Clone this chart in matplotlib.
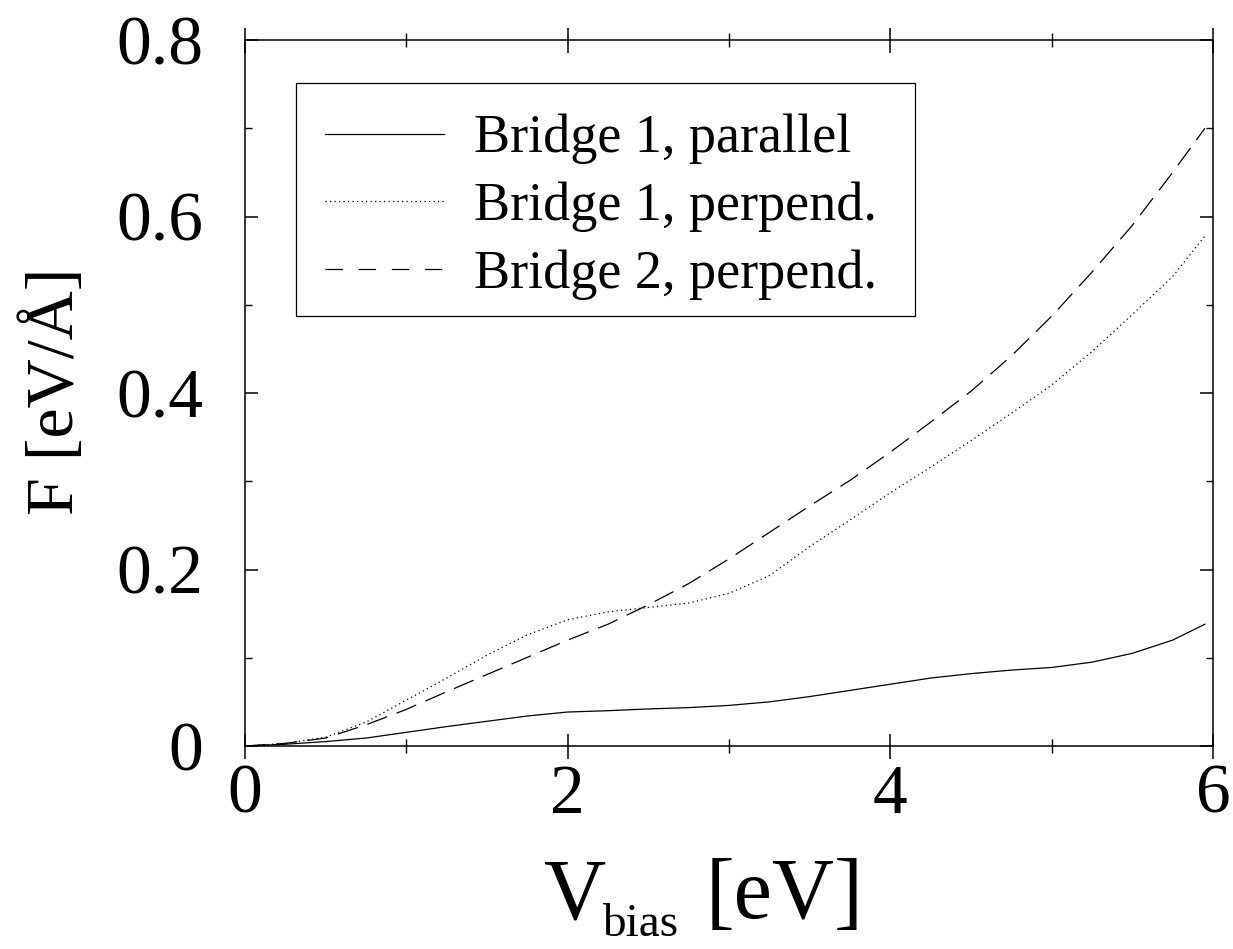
import numpy as np
import matplotlib
matplotlib.use("Agg")
import matplotlib.pyplot as plt
from matplotlib.ticker import MultipleLocator
from matplotlib.lines import Line2D
from matplotlib.patches import Rectangle

plt.rcParams['font.family'] = ['Liberation Serif', 'DejaVu Serif']

# ---- Data ----
v_bias = [0, 0.25, 0.5, 0.75, 1.0, 1.25, 1.5, 1.75, 2.0, 2.25, 2.5, 2.75, 3.0,
          3.25, 3.5, 3.75, 4.0, 4.25, 4.5, 4.75, 5.0, 5.25, 5.5, 5.75, 5.95]
f_b1_par = [0, 0.002, 0.005, 0.009, 0.0155, 0.022, 0.028, 0.034, 0.0385, 0.040,
            0.042, 0.0435, 0.046, 0.050, 0.056, 0.063, 0.070, 0.077, 0.082,
            0.086, 0.089, 0.095, 0.105, 0.120, 0.138]
f_b1_perp = [0, 0.003, 0.010, 0.027, 0.052, 0.077, 0.103, 0.126, 0.143, 0.152,
             0.157, 0.162, 0.173, 0.193, 0.226, 0.256, 0.287, 0.316, 0.346,
             0.377, 0.409, 0.447, 0.489, 0.532, 0.578]
f_b2_perp = [0, 0.003, 0.009, 0.024, 0.0415, 0.0615, 0.081, 0.1005, 0.120, 0.138,
             0.160, 0.184, 0.212, 0.242, 0.272, 0.301, 0.333, 0.367, 0.402,
             0.442, 0.487, 0.537, 0.590, 0.650, 0.700]

labels = ["Bridge 1, parallel", "Bridge 1, perpend.", "Bridge 2, perpend."]
x_ticks = [0, 2, 4, 6]
x_ticklabels = ["0", "2", "4", "6"]
y_ticks = [0, 0.2, 0.4, 0.6, 0.8]
y_ticklabels = ["0", "0.2", "0.4", "0.6", "0.8"]

W, H = 1233, 949
fig = plt.figure(figsize=(W / 100, H / 100), dpi=100)
ax = fig.add_axes([245 / W, 1 - 746 / H, (1213 - 245) / W, (746 - 40) / H])

LW = 0.9
dot_style = (0, (1.0, 2.6))
dash_style = (0, (17, 8))
ax.plot(v_bias, f_b1_par, color='black', lw=LW, ls='-')
ax.plot(v_bias, f_b1_perp, color='black', lw=LW, ls=dot_style)
ax.plot(v_bias, f_b2_perp, color='black', lw=LW, ls=dash_style)

ax.set_xlim(0, 6)
ax.set_ylim(0, 0.8)
ax.set_xticks(x_ticks)
ax.set_xticklabels(x_ticklabels)
ax.set_yticks(y_ticks)
ax.set_yticklabels(y_ticklabels)
ax.xaxis.set_minor_locator(MultipleLocator(1))
ax.yaxis.set_minor_locator(MultipleLocator(0.1))

for s in ax.spines.values():
    s.set_linewidth(1.1)

ax.tick_params(axis='x', which='major', direction='inout', length=18, width=1.1,
               labelsize=50, pad=4, top=True)
ax.tick_params(axis='x', which='minor', direction='inout', length=10, width=1.0, top=True)
ax.tick_params(axis='y', which='major', direction='in', length=9.5, width=1.1,
               labelsize=50, pad=30, right=True)
ax.tick_params(axis='y', which='minor', direction='in', length=5, width=1.0, right=True)

# Axis labels
fig.text(73 / W, 1 - 391 / H, "F [eV/Å]", fontsize=49, rotation=90,
         rotation_mode='anchor', ha='center', va='baseline')
fig.text(544 / W, 1 - 918 / H, "V", fontsize=62, ha='left', va='baseline')
fig.text(602 / W, 1 - 936 / H, "bias", fontsize=34, ha='left', va='baseline')
fig.text(706 / W, 1 - 918 / H, "[eV]", fontsize=62, ha='left', va='baseline')

# Legend
handles = [Line2D([], [], color='black', lw=LW, ls='-'),
           Line2D([], [], color='black', lw=LW, ls=(0, (1.0, 2.6))),
           Line2D([], [], color='black', lw=LW, ls=(0, (14, 12.5)))]
leg = ax.legend(handles, labels, loc='upper left',
                bbox_to_anchor=((325 - 245) / 968, (746 - 114) / 706),
                fontsize=39, frameon=False, handlelength=2.2,
                handletextpad=0.55, labelspacing=0.32, borderpad=0,
                borderaxespad=0)
ax.add_patch(Rectangle(((296 - 245) / 968, (746 - 316) / 706),
                       (915 - 296) / 968, (316 - 83) / 706,
                       transform=ax.transAxes, fill=False, edgecolor='black',
                       lw=0.9, zorder=5))

fig.savefig("out.png", dpi=100)
